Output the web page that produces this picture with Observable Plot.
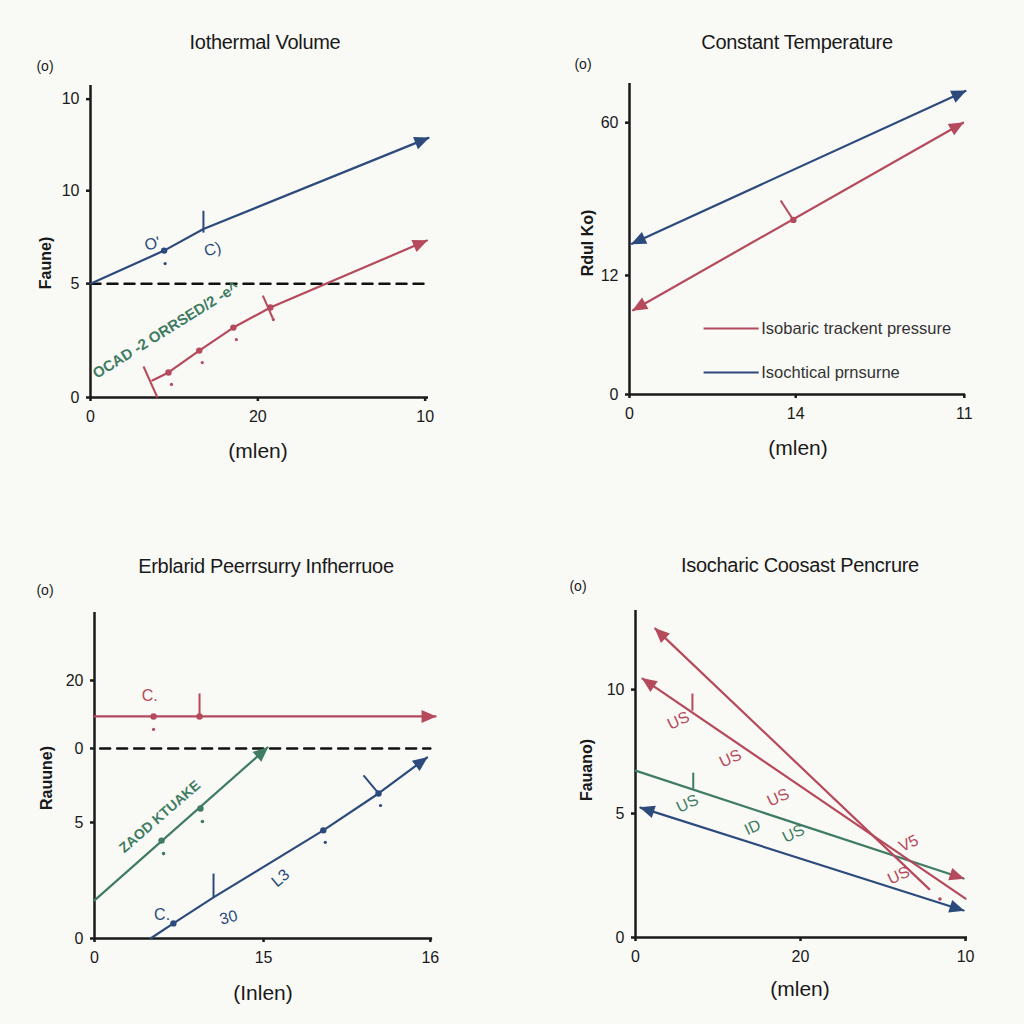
<!DOCTYPE html>
<html><head><meta charset="utf-8">
<script src="https://cdn.jsdelivr.net/npm/d3@7"></script>
<script src="https://cdn.jsdelivr.net/npm/@observablehq/plot@0.6"></script>
<style>
html,body{margin:0;padding:0;background:#f9f9f6;}
#root{position:relative;width:1024px;height:1024px;overflow:hidden;font-family:"Liberation Sans",Arial,sans-serif;color:#1a1a1a;background:#f9f9f6;}
.panel{position:absolute;width:512px;height:512px;}
.t{position:absolute;white-space:nowrap;transform:translate(-50%,-50%);line-height:1;}
.title{font-size:20px;letter-spacing:-0.3px;}
.tag{font-size:14px;}
.xl{font-size:21px;}
.yl{font-size:16px;font-weight:bold;transform:translate(-50%,-50%) rotate(-90deg);}
</style></head><body><div id="root"></div><script>
// ---------- data ----------
// Panel 1
const p1XTicks = [0, 1, 2];
const p1XLabels = ["0", "20", "10"];
const p1YTicks = [0, 5, 9.08, 13.1];
const p1YLabels = ["0", "5", "10", "10"];
const p1Blue = [[0, 5], [0.44, 6.45], [0.675, 7.4], [2.02, 11.4]];
const p1BlueDots = [[0.44, 6.45]];
const p1BlueTicks = [[0.675, 7.24, 0.675, 8.2]];
const p1BlueNotes = [[0.37, 6.75, "O'"], [0.73, 6.5, "C)"]];
const p1Red = [[0.37, 0.75], [0.466, 1.10], [0.65, 2.06], [0.854, 3.07], [1.075, 3.95], [2.01, 6.89]];
const p1RedDots = [[0.466, 1.10], [0.65, 2.06], [0.854, 3.07], [1.075, 3.95]];
const p1RedTicks = [[0.317, 1.36, 0.40, 0], [1.03, 4.47, 1.09, 3.47]];
const p1Dashed = [[0, 5], [2.02, 5]];
const p1GreenNote = [[0.45, 2.95, "OCAD -2 ORRSED/2 -e^"]];

// Panel 2
const p2XTicks = [0, 14, 28.2];
const p2XLabels = ["0", "14", "11"];
const p2YTicks = [0, 12, 27.4];
const p2YLabels = ["0", "12", "60"];
const p2Blue = [[0.2, 15.2], [28.3, 30.6]];
const p2Red = [[0.3, 8.5], [28.1, 27.4]];
const p2RedDots = [[13.8, 17.6]];
const p2RedTicks = [[12.73, 19.56, 13.83, 17.54]];
const p2LegendNames = ["Isobaric trackent pressure", "Isochtical prnsurne"];
const p2LegendY = [6.65, 2.22];

// Panel 3
const p3XTicks = [0, 15, 29.8];
const p3XLabels = ["0", "15", "16"];
const p3YTicks = [0, 5, 8.19, 11.12];
const p3YLabels = ["0", "5", "0", "20"];
const p3Red = [[0, 9.57], [30.26, 9.57]];
const p3RedDots = [[5.24, 9.57], [9.32, 9.57]];
const p3RedTicks = [[9.32, 10.56, 9.32, 9.57]];
const p3RedNotes = [[4.9, 10.45, "C."]];
const p3Dashed = [[0.5, 8.19], [29.8, 8.19]];
const p3Green = [[0, 1.64], [15.35, 8.23]];
const p3GreenDots = [[5.95, 4.22], [9.4, 5.6]];
const p3GreenNote = [[5.8, 5.25, "ZAOD KTUAKE"]];
const p3Blue = [[4.97, 0], [7.0, 0.65], [10.56, 1.77], [20.3, 4.66], [25.2, 6.25], [29.5, 7.8]];
const p3BlueDots = [[7.0, 0.65], [20.3, 4.66], [25.2, 6.25]];
const p3BlueTicks = [[10.56, 2.8, 10.56, 1.77], [23.87, 7.03, 25.2, 6.25]];
const p3BlueNotes = [[6.0, 1.0, "C.", 0], [11.9, 0.9, "30", -15], [16.5, 2.6, "L3", -40]];

// Panel 4
const p4XTicks = [0, 20, 40];
const p4XLabels = ["0", "20", "10"];
const p4YTicks = [0, 5, 10];
const p4YLabels = ["0", "5", "10"];
const p4RedSteep = [[2.4, 12.46], [35.6, 1.95]];
const p4RedLower = [[0.85, 10.44], [40, 1.57]];
const p4Green = [[0, 6.73], [39.76, 2.38]];
const p4Blue = [[0.6, 5.24], [39.76, 1.09]];
const p4RedNotes = [[5.2, 8.75, "US"], [11.5, 7.22, "US"], [17.3, 5.65, "US"], [33.1, 3.79, "V5"], [31.9, 2.5, "US"]];
const p4GreenNotes = [[6.3, 5.4, "US"], [14.2, 4.44, "ID"], [19.15, 4.19, "US"]];
const p4RedTicks = [[6.9, 9.84, 6.9, 9.15]];
const p4GreenTicks = [[7.0, 6.65, 7.0, 6.0]];
const p4Dots = [[36.9, 1.55]];

// ---------- styling ----------
const BLUE = "#2c4b7c", RED = "#b54a5c", GREEN = "#3f7c62", INK = "#1a1a1a";
const NS = "http://www.w3.org/2000/svg";
function arrowHead(fixed) {
  return (color, context) => {
    const doc = (context && context.document) || document;
    const m = doc.createElementNS(NS, "marker");
    m.setAttribute("viewBox", "-16 -8 17 16");
    m.setAttribute("markerWidth", 17);
    m.setAttribute("markerHeight", 16);
    m.setAttribute("markerUnits", "userSpaceOnUse");
    m.setAttribute("orient", "auto-start-reverse");
    m.setAttribute("refX", 0);
    m.setAttribute("refY", 0);
    const p = doc.createElementNS(NS, "path");
    p.setAttribute("d", "M1,0L-14,-6.5L-14,6.5Z");
    p.setAttribute("fill", fixed || color);
    p.setAttribute("stroke", "none");
    m.appendChild(p);
    return m;
  };
}
const X = d => d[0], Y = d => d[1];
const line = (data, stroke, o = {}) => Plot.line(data, {x: X, y: Y, stroke, strokeWidth: 2.2, ...o});
const links = (data, stroke) => Plot.link(data, {x1: d => d[0], y1: d => d[1], x2: d => d[2], y2: d => d[3], stroke, strokeWidth: 2});
const dots = (data, fill, o = {}) => Plot.dot(data, {x: X, y: Y, fill, r: 3.2, ...o});
const notes = (data, fill, o = {}) => Plot.text(data, {x: X, y: Y, text: d => d[2], fill, fontSize: 16, ...o});

const root = document.getElementById("root");
function addText(cls, x, y, txt) {
  const d = document.createElement("div");
  d.className = "t " + cls;
  d.style.left = x + "px"; d.style.top = y + "px";
  d.textContent = txt;
  root.appendChild(d);
}
function panel({left, top, ml, mr, mt, mb, xDomain, yDomain, xEnd, yEnd, xTicks, xLabels, yTicks, yLabels, marks}) {
  const fmt = (t, l) => d => l[t.indexOf(d)];
  const svg = Plot.plot({
    width: 512, height: 512,
    marginLeft: ml, marginRight: mr, marginTop: mt, marginBottom: mb,
    style: {background: "transparent", fontFamily: "Liberation Sans, Arial, sans-serif", fontSize: "16px", color: INK, overflow: "visible"},
    x: {domain: xDomain},
    y: {domain: yDomain},
    marks: [
      Plot.axisX(xTicks, {tickFormat: fmt(xTicks, xLabels), tickSize: 4, tickPadding: 9, strokeWidth: 2.5, fontSize: 16, label: null}),
      Plot.axisY(yTicks, {tickFormat: fmt(yTicks, yLabels), tickSize: 4, tickPadding: 7, strokeWidth: 2.5, fontSize: 16, label: null}),
      Plot.ruleY([0], {x1: xDomain[0], x2: xEnd, stroke: INK, strokeWidth: 2.5}),
      Plot.ruleX([0], {y1: 0, y2: yEnd, stroke: INK, strokeWidth: 2.5}),
      ...marks
    ]
  });
  const div = document.createElement("div");
  div.className = "panel";
  div.style.left = left + "px"; div.style.top = top + "px";
  div.appendChild(svg);
  root.appendChild(div);
}

// Panel 1
panel({
  left: 0, top: 0, ml: 90, mr: 84, mt: 85, mb: 115,
  xDomain: [0, 2.02], yDomain: [0, 13.7], xEnd: 2.02, yEnd: 13.7,
  xTicks: p1XTicks, xLabels: p1XLabels, yTicks: p1YTicks, yLabels: p1YLabels,
  marks: [
    line(p1Dashed, "#111", {strokeWidth: 2.5, strokeDasharray: "10,7"}),
    line(p1Blue, BLUE, {markerEnd: arrowHead()}),
    dots(p1BlueDots, BLUE), dots(p1BlueDots, BLUE, {r: 1.6, dy: 13, dx: 1}),
    links(p1BlueTicks, BLUE),
    notes(p1BlueNotes, BLUE, {rotate: -15}),
    line(p1Red, RED, {markerEnd: arrowHead()}),
    dots(p1RedDots, RED), dots(p1RedDots, RED, {r: 1.6, dy: 12, dx: 3}),
    links(p1RedTicks, RED),
    notes(p1GreenNote, GREEN, {rotate: -32, fontSize: 15, fontWeight: "bold"})
  ]
});

// Panel 2
panel({
  left: 512, top: 0, ml: 117, mr: 59, mt: 83, mb: 118,
  xDomain: [0, 28.3], yDomain: [0, 31.35], xEnd: 28.3, yEnd: 31.35,
  xTicks: p2XTicks, xLabels: p2XLabels, yTicks: p2YTicks, yLabels: p2YLabels,
  marks: [
    line(p2Blue, BLUE, {markerStart: arrowHead(), markerEnd: arrowHead()}),
    line(p2Red, RED, {markerStart: arrowHead(), markerEnd: arrowHead()}),
    dots(p2RedDots, RED),
    links(p2RedTicks, RED),
    Plot.link(p2LegendY, {x1: 6.24, x2: 10.88, y1: d => d, y2: d => d, stroke: (d, i) => [RED, BLUE][i], strokeWidth: 2}),
    Plot.text(p2LegendNames, {x: 11.1, y: (d, i) => p2LegendY[i], text: d => d, textAnchor: "start", fill: "#333", fontSize: 16.5})
  ]
});

// Panel 3
panel({
  left: 0, top: 512, ml: 94, mr: 76.5, mt: 100, mb: 86,
  xDomain: [0, 30.3], yDomain: [0, 14.05], xEnd: 30.0, yEnd: 14.05,
  xTicks: p3XTicks, xLabels: p3XLabels, yTicks: p3YTicks, yLabels: p3YLabels,
  marks: [
    line(p3Dashed, "#111", {strokeWidth: 2.5, strokeDasharray: "10,7"}),
    line(p3Red, RED, {markerEnd: arrowHead()}),
    dots(p3RedDots, RED), dots(p3RedDots.slice(0, 1), RED, {r: 1.6, dy: 13}),
    links(p3RedTicks, RED),
    notes(p3RedNotes, RED),
    line(p3Green, GREEN, {markerEnd: arrowHead()}),
    dots(p3GreenDots, GREEN), dots(p3GreenDots, GREEN, {r: 1.8, dy: 13, dx: 2}),
    notes(p3GreenNote, GREEN, {rotate: -41, fontSize: 14, fontWeight: "bold"}),
    line(p3Blue, BLUE, {markerEnd: arrowHead()}),
    dots(p3BlueDots, BLUE), dots(p3BlueDots.slice(1), BLUE, {r: 1.6, dy: 12, dx: 2}),
    links(p3BlueTicks, BLUE),
    notes(p3BlueNotes, BLUE, {rotate: d => d[3]})
  ]
});

// Panel 4
panel({
  left: 512, top: 512, ml: 123, mr: 57, mt: 98, mb: 87,
  xDomain: [0, 40.24], yDomain: [0, 13.19], xEnd: 40.24, yEnd: 13.19,
  xTicks: p4XTicks, xLabels: p4XLabels, yTicks: p4YTicks, yLabels: p4YLabels,
  marks: [
    line(p4Green, GREEN, {markerEnd: arrowHead(RED)}),
    line(p4Blue, BLUE, {markerStart: arrowHead(), markerEnd: arrowHead()}),
    line(p4RedLower, RED, {markerStart: arrowHead()}),
    line(p4RedSteep, RED, {markerStart: arrowHead()}),
    dots(p4Dots, RED, {r: 1.8}),
    links(p4RedTicks, RED), links(p4GreenTicks, GREEN),
    notes(p4RedNotes, RED, {rotate: -25}),
    notes(p4GreenNotes, GREEN, {rotate: -25})
  ]
});

// titles, tags and axis labels
addText("title", 265, 42, "Iothermal Volume");
addText("title", 797, 42, "Constant Temperature");
addText("title", 266, 566, "Erblarid Peerrsurry Infherruoe");
addText("title", 800, 565, "Isocharic Coosast Pencrure");
addText("tag", 45, 66, "(o)");
addText("tag", 583, 64, "(o)");
addText("tag", 45, 590, "(o)");
addText("tag", 578, 586, "(o)");
addText("xl", 258, 450, "(mlen)");
addText("xl", 798, 447, "(mlen)");
addText("xl", 263, 992, "(Inlen)");
addText("xl", 800, 988, "(mlen)");
addText("yl", 46, 263, "Faune)");
addText("yl", 588, 243, "Rdul Ko)");
addText("yl", 47, 778, "Rauune)");
addText("yl", 587, 770, "Fauano)");
</script></body></html>
